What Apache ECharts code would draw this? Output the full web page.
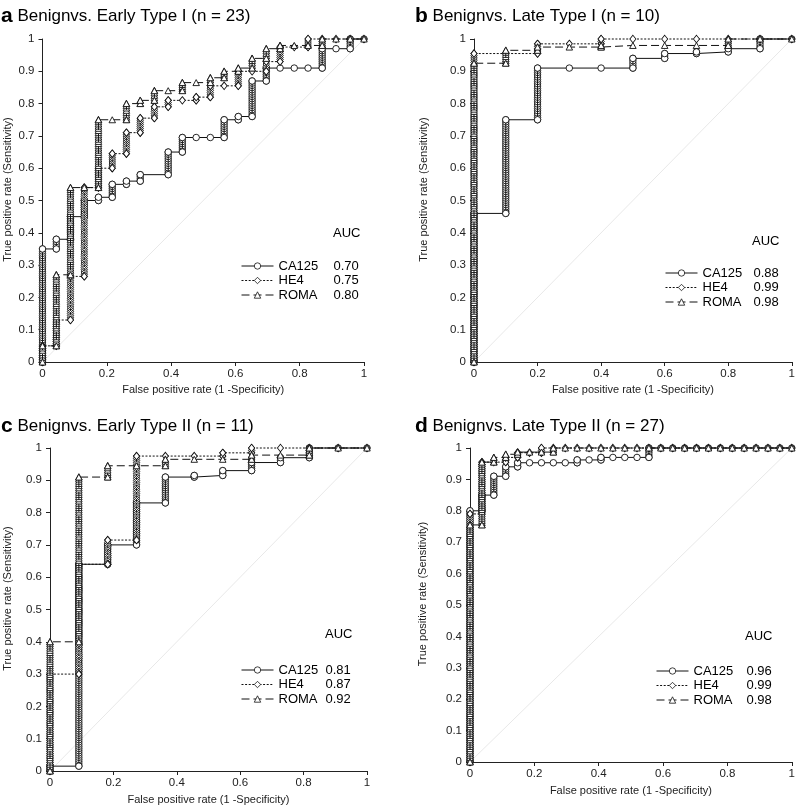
<!DOCTYPE html>
<html><head><meta charset="utf-8">
<script src="https://cdn.jsdelivr.net/npm/echarts@6/dist/echarts.min.js"></script>
<style>html,body{margin:0;padding:0;background:#fff}#c{width:798px;height:807px}</style>
</head><body><div id="c"></div>
<script>
const FONT = '"Liberation Sans", Arial, Helvetica, sans-serif';

// ---------- data ----------
const seriesNames = ['CA125', 'HE4', 'ROMA'];
const panelLetters = ['a', 'b', 'c', 'd'];
const panelTitles = [
  'Benignvs. Early Type I (n = 23)',
  'Benignvs. Late Type I (n = 10)',
  'Benignvs. Early Type II (n = 11)',
  'Benignvs. Late Type II (n = 27)'
];
const aucA = ['0.70', '0.75', '0.80'];
const aucB = ['0.88', '0.99', '0.98'];
const aucC = ['0.81', '0.87', '0.92'];
const aucD = ['0.96', '0.99', '0.98'];
const xTickStep = 0.2;
const yTickStep = 0.1;
const xAxisName = 'False positive rate (1 -Specificity)';
const yAxisName = 'True positive rate (Sensitivity)';
const chanceLine = [[0, 0], [1, 1]];

// Panel a: Benign vs Early Type I
const a_CA125 = [[0,0],[0,0.35],[0.043,0.35],[0.043,0.38],[0.087,0.38],[0.087,0.45],[0.130,0.45],[0.130,0.50],[0.174,0.50],[0.174,0.51],[0.217,0.51],[0.217,0.55],[0.261,0.55],[0.261,0.56],[0.304,0.56],[0.304,0.58],[0.391,0.58],[0.391,0.65],[0.435,0.65],[0.435,0.695],[0.478,0.695],[0.522,0.695],[0.565,0.695],[0.565,0.75],[0.609,0.75],[0.609,0.76],[0.652,0.76],[0.652,0.87],[0.696,0.87],[0.696,0.91],[0.739,0.91],[0.783,0.91],[0.826,0.91],[0.870,0.91],[0.870,0.97],[0.913,0.97],[0.957,0.97],[0.957,1],[1,1]];
const a_HE4 = [[0,0],[0,0.05],[0.043,0.05],[0.043,0.13],[0.087,0.13],[0.087,0.265],[0.130,0.265],[0.130,0.54],[0.174,0.54],[0.174,0.60],[0.217,0.60],[0.217,0.645],[0.261,0.645],[0.261,0.71],[0.304,0.71],[0.304,0.755],[0.348,0.755],[0.348,0.79],[0.391,0.79],[0.391,0.81],[0.435,0.81],[0.478,0.81],[0.478,0.82],[0.522,0.82],[0.522,0.855],[0.565,0.855],[0.609,0.855],[0.609,0.90],[0.652,0.90],[0.696,0.90],[0.696,0.93],[0.739,0.93],[0.739,0.975],[0.783,0.975],[0.826,0.975],[0.826,1],[0.870,1],[0.913,1],[0.957,1],[1,1]];
const a_ROMA = [[0,0],[0,0.05],[0.043,0.05],[0.043,0.27],[0.087,0.27],[0.087,0.54],[0.130,0.54],[0.174,0.54],[0.174,0.75],[0.217,0.75],[0.261,0.75],[0.261,0.80],[0.304,0.80],[0.304,0.81],[0.348,0.81],[0.348,0.84],[0.391,0.84],[0.435,0.84],[0.435,0.865],[0.478,0.865],[0.522,0.865],[0.522,0.88],[0.565,0.88],[0.565,0.90],[0.609,0.90],[0.609,0.91],[0.652,0.91],[0.652,0.94],[0.696,0.94],[0.696,0.97],[0.739,0.97],[0.739,0.98],[0.783,0.98],[0.826,0.98],[0.870,0.98],[0.870,1],[0.913,1],[0.957,1],[1,1]];

// Panel b: Benign vs Late Type I
const b_CA125 = [[0,0],[0,0.46],[0.1,0.46],[0.1,0.75],[0.2,0.75],[0.2,0.91],[0.3,0.91],[0.4,0.91],[0.5,0.91],[0.5,0.94],[0.6,0.94],[0.6,0.955],[0.7,0.955],[0.7,0.96],[0.8,0.96],[0.8,0.97],[0.9,0.97],[0.9,1],[1,1]];
const b_HE4 = [[0,0],[0,0.955],[0.1,0.955],[0.2,0.955],[0.2,0.985],[0.3,0.985],[0.4,0.985],[0.4,1],[0.5,1],[0.6,1],[0.7,1],[0.8,1],[0.9,1],[1,1]];
const b_ROMA = [[0,0],[0,0.925],[0.1,0.925],[0.1,0.965],[0.2,0.965],[0.2,0.975],[0.3,0.975],[0.4,0.975],[0.4,0.98],[0.5,0.98],[0.6,0.98],[0.7,0.98],[0.8,0.98],[0.8,1],[0.9,1],[1,1]];

// Panel c: Benign vs Early Type II
const c_CA125 = [[0,0],[0,0.015],[0.091,0.015],[0.091,0.64],[0.182,0.64],[0.182,0.70],[0.273,0.70],[0.273,0.83],[0.364,0.83],[0.364,0.91],[0.455,0.91],[0.455,0.915],[0.545,0.915],[0.545,0.93],[0.636,0.93],[0.636,0.955],[0.727,0.955],[0.727,0.97],[0.818,0.97],[0.818,1],[0.909,1],[1,1]];
const c_HE4 = [[0,0],[0,0.30],[0.091,0.30],[0.091,0.64],[0.182,0.64],[0.182,0.715],[0.273,0.715],[0.273,0.975],[0.364,0.975],[0.455,0.975],[0.545,0.975],[0.545,0.985],[0.636,0.985],[0.636,1],[0.727,1],[0.818,1],[0.909,1],[1,1]];
const c_ROMA = [[0,0],[0,0.40],[0.091,0.40],[0.091,0.91],[0.182,0.91],[0.182,0.945],[0.273,0.945],[0.364,0.945],[0.364,0.965],[0.455,0.965],[0.545,0.965],[0.636,0.965],[0.636,0.978],[0.727,0.978],[0.818,0.978],[0.818,1],[0.909,1],[1,1]];

// Panel d: Benign vs Late Type II
const d_CA125 = [[0,0],[0,0.80],[0.037,0.80],[0.037,0.85],[0.074,0.85],[0.074,0.91],[0.111,0.91],[0.111,0.94],[0.148,0.94],[0.148,0.953],[0.185,0.953],[0.222,0.953],[0.259,0.953],[0.296,0.953],[0.333,0.953],[0.333,0.962],[0.370,0.962],[0.407,0.962],[0.407,0.97],[0.444,0.97],[0.481,0.97],[0.519,0.97],[0.556,0.97],[0.556,1],[0.593,1],[0.630,1],[0.667,1],[0.704,1],[0.741,1],[0.778,1],[0.815,1],[0.852,1],[0.889,1],[0.926,1],[0.963,1],[1,1]];
const d_HE4 = [[0,0],[0,0.79],[0.037,0.79],[0.037,0.955],[0.074,0.955],[0.111,0.955],[0.111,0.97],[0.148,0.97],[0.148,0.985],[0.185,0.985],[0.222,0.985],[0.222,1],[0.259,1],[0.296,1],[0.333,1],[0.370,1],[0.407,1],[0.444,1],[0.481,1],[0.519,1],[0.556,1],[0.593,1],[0.630,1],[0.667,1],[0.704,1],[0.741,1],[0.778,1],[0.815,1],[0.852,1],[0.889,1],[0.926,1],[0.963,1],[1,1]];
const d_ROMA = [[0,0],[0,0.755],[0.037,0.755],[0.037,0.955],[0.074,0.955],[0.074,0.97],[0.111,0.97],[0.111,0.98],[0.148,0.98],[0.148,0.987],[0.185,0.987],[0.222,0.987],[0.259,0.987],[0.259,1],[0.296,1],[0.333,1],[0.370,1],[0.407,1],[0.444,1],[0.481,1],[0.519,1],[0.556,1],[0.593,1],[0.630,1],[0.667,1],[0.704,1],[0.741,1],[0.778,1],[0.815,1],[0.852,1],[0.889,1],[0.926,1],[0.963,1],[1,1]];

const panelCurves = [
  [a_CA125, a_HE4, a_ROMA],
  [b_CA125, b_HE4, b_ROMA],
  [c_CA125, c_HE4, c_ROMA],
  [d_CA125, d_HE4, d_ROMA]
];
const panelAuc = [aucA, aucB, aucC, aucD];

// ---------- layout & styles ----------
const layout = [
  {grid:{left:42.5,top:39,width:321.5,height:323}, title:{left:1,top:6}, legend:{left:241,top:259,nameW:55}, auc:{x:333,y:235}, yNameGap:29, xNameGap:22},
  {grid:{left:474,top:39,width:318,height:323}, title:{left:415,top:6}, legend:{left:665,top:266,nameW:51}, auc:{x:752,y:243}, yNameGap:45, xNameGap:22},
  {grid:{left:50,top:448,width:317,height:323}, title:{left:1,top:416}, legend:{left:241,top:663,nameW:47}, auc:{x:325,y:636}, yNameGap:37, xNameGap:23},
  {grid:{left:470,top:448,width:323,height:314}, title:{left:415,top:416}, legend:{left:656,top:664,nameW:53}, auc:{x:745,y:638}, yNameGap:42, xNameGap:23}
];
const styles = {
  CA125: {symbol:'circle', size:6.5, dash:'solid'},
  HE4: {symbol:'diamond', size:[6,7.5], dash:[2,1.6]},
  ROMA: {symbol:'triangle', size:[6.5,6], dash:[8,4]}
};
const INK = '#111';
const STACK_SPACING = 2.2;

function verticalRuns(pts) {
  const out = [];
  for (let i = 1; i < pts.length; i++) {
    if (pts[i][0] === pts[i-1][0] && pts[i][1] !== pts[i-1][1]) out.push([pts[i][0], pts[i-1][1], pts[i][1]]);
  }
  return out;
}
function markShape(kind, cx, cy) {
  const st = {fill:'#fff', stroke:INK, lineWidth:0.9};
  if (kind === 'circle') return {type:'circle', shape:{cx, cy, r:3.2}, style:st};
  if (kind === 'diamond') return {type:'polygon', shape:{points:[[cx,cy-3.8],[cx+3.2,cy],[cx,cy+3.8],[cx-3.2,cy]]}, style:st};
  return {type:'polygon', shape:{points:[[cx,cy-3.4],[cx+3.3,cy+2.8],[cx-3.3,cy+2.8]]}, style:st};
}
function stackRenderer(kind) {
  return function (params, api) {
    const x = api.value(0), y0 = api.value(1), y1 = api.value(2);
    const p0 = api.coord([x, y0]), p1 = api.coord([x, y1]);
    const len = Math.abs(p0[1] - p1[1]);
    const n = Math.max(1, Math.round(len / STACK_SPACING));
    const lo = Math.max(p0[1], p1[1]);
    const children = [];
    for (let i = 0; i <= n; i++) children.push(markShape(kind, p0[0], lo - len * i / n));
    return {type:'group', children};
  };
}

const grids = [], xAxes = [], yAxes = [], titles = [], legends = [], graphics = [], series = [];
const axisLineStyle = {color:'#222', width:1};
layout.forEach((L, i) => {
  grids.push(Object.assign({containLabel:false}, L.grid));
  xAxes.push({type:'value', gridIndex:i, min:0, max:1, interval:xTickStep,
    axisLine:{show:true, lineStyle:axisLineStyle}, axisTick:{show:true, length:4, lineStyle:axisLineStyle},
    axisLabel:{fontSize:11.5, color:'#222', margin:6, fontFamily:FONT}, splitLine:{show:false},
    name:xAxisName, nameLocation:'middle', nameGap:L.xNameGap, nameTextStyle:{fontSize:11, color:'#222', fontFamily:FONT}});
  yAxes.push({type:'value', gridIndex:i, min:0, max:1, interval:yTickStep,
    axisLine:{show:true, lineStyle:axisLineStyle}, axisTick:{show:true, length:4, lineStyle:axisLineStyle},
    axisLabel:{fontSize:11.5, color:'#222', margin:8, fontFamily:FONT}, splitLine:{show:false},
    name:yAxisName, nameLocation:'middle', nameGap:L.yNameGap, nameTextStyle:{fontSize:11, color:'#222', fontFamily:FONT, padding:[0,0,0,22]}});
  titles.push({text:'{b|' + panelLetters[i] + '} ' + panelTitles[i], left:L.title.left, top:L.title.top, padding:0,
    textStyle:{fontSize:17, fontWeight:'normal', color:'#000', fontFamily:FONT,
      rich:{b:{fontSize:21, fontWeight:'bold', color:'#000', fontFamily:FONT}}}});
  const aucs = panelAuc[i];
  legends.push({data:seriesNames.slice(), orient:'vertical', left:L.legend.left, top:L.legend.top, padding:0,
    itemGap:0.5, itemWidth:32, itemHeight:8, selectedMode:false,
    lineStyle:{width:1}, itemStyle:{borderWidth:0.8},
    formatter: name => '{n|' + name + '}{v|' + aucs[seriesNames.indexOf(name)] + '}',
    textStyle:{fontSize:13, color:'#000', fontFamily:FONT, lineHeight:14,
      rich:{n:{width:L.legend.nameW, fontSize:13, fontFamily:FONT, color:'#000', lineHeight:14},
            v:{fontSize:13, fontFamily:FONT, color:'#000', lineHeight:14}}}});
  graphics.push({type:'text', left:L.auc.x, top:L.auc.y - 8, style:{text:'AUC', fontSize:13, fontFamily:FONT, fill:'#000'}});

  series.push({type:'line', name:'chance', xAxisIndex:i, yAxisIndex:i, data:chanceLine, symbol:'none',
    lineStyle:{color:'#e8e8e8', width:1}, silent:true, z:1, animation:false});
  seriesNames.forEach((nm, k) => {
    const pts = panelCurves[i][k], st = styles[nm];
    series.push({type:'line', name:nm, xAxisIndex:i, yAxisIndex:i, data:pts, symbol:st.symbol, symbolSize:st.size,
      showSymbol:true, showAllSymbol:true, clip:false,
      lineStyle:{color:INK, width:1, type:st.dash}, itemStyle:{color:'#fff', borderColor:INK, borderWidth:0.9},
      z:2 + k, animation:false});
    series.push({type:'custom', name:nm + ' stack', xAxisIndex:i, yAxisIndex:i, data:verticalRuns(pts),
      renderItem:stackRenderer(st.symbol), encode:{x:0, y:[1, 2]}, clip:false, silent:true, z:2 + k, animation:false});
  });
});

const chart = echarts.init(document.getElementById('c'), null, {renderer:'canvas'});
chart.setOption({
  backgroundColor:'#fff', animation:false,
  title:titles, grid:grids, xAxis:xAxes, yAxis:yAxes, legend:legends, graphic:graphics, series:series
});
</script>
</body></html>
